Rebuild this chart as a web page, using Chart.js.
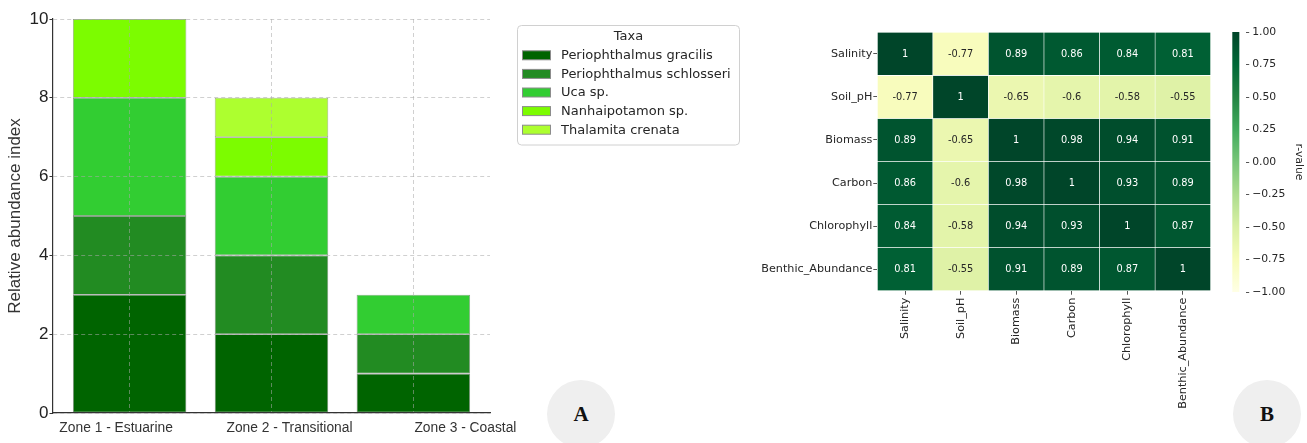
<!DOCTYPE html>
<html><head><meta charset="utf-8">
<script src="https://cdn.jsdelivr.net/npm/chart.js@4.4.0/dist/chart.umd.min.js"></script>
<style>
html,body{margin:0;padding:0;background:#fff;}
body{width:1307px;height:443px;position:relative;overflow:hidden;}
canvas{position:absolute;top:0;}
.badge{position:absolute;width:68px;height:68px;border-radius:50%;background:#efefef;font:bold 21px "Liberation Serif","DejaVu Serif",serif;color:#111;text-align:center;line-height:68px;}
</style></head><body>
<canvas id="cA" width="760" height="443" style="left:0"></canvas>
<canvas id="cB" width="460" height="443" style="left:760px"></canvas>
<canvas id="cC" width="82" height="443" style="left:1225px"></canvas>
<div class="badge" style="left:547px;top:380px">A</div>
<div class="badge" style="left:1233px;top:380px">B</div>
<script>
// ---------- Panel A data ----------
const zones = ['Zone 1 - Estuarine', 'Zone 2 - Transitional', 'Zone 3 - Coastal'];
const taxa = ['Periophthalmus gracilis', 'Periophthalmus schlosseri', 'Uca sp.', 'Nanhaipotamon sp.', 'Thalamita crenata'];
const gracilis = [3, 2, 1];
const schlosseri = [2, 2, 1];
const uca = [3, 2, 1];
const nanhaipotamon = [2, 1, 0];
const thalamita = [0, 1, 0];
const yTicksA = [0, 2, 4, 6, 8, 10];

// ---------- Panel B data ----------
const variables = ['Salinity', 'Soil_pH', 'Biomass', 'Carbon', 'Chlorophyll', 'Benthic_Abundance'];
const rSalinity = [1, -0.77, 0.89, 0.86, 0.84, 0.81];
const rSoilPH = [-0.77, 1, -0.65, -0.6, -0.58, -0.55];
const rBiomass = [0.89, -0.65, 1, 0.98, 0.94, 0.91];
const rCarbon = [0.86, -0.6, 0.98, 1, 0.93, 0.89];
const rChlorophyll = [0.84, -0.58, 0.94, 0.93, 1, 0.87];
const rBenthic = [0.81, -0.55, 0.91, 0.89, 0.87, 1];
const cbTicks = [-1, -0.75, -0.5, -0.25, 0, 0.25, 0.5, 0.75, 1];

// ---------- styles ----------
const taxaColors = ['#006400', '#228B22', '#32CD32', '#7CFC00', '#ADFF2F'];
const zoneLabelShift = [-13.5, 18, 52];   // pixel shift of each x label centre (layout only)
const ylgnStops = ['#ffffe5', '#f7fcb9', '#d9f0a3', '#addd8e', '#78c679', '#41ab5d', '#238443', '#006837', '#004529'];
const sans = 'Liberation Sans';
const dv = 'DejaVu Sans';

function hexRgb(h) { return [1, 3, 5].map(i => parseInt(h.substr(i, 2), 16)); }
function ylgnRgb(v) {
  let t = (v + 1) / 2; t = Math.max(0, Math.min(1, t));
  const p = t * 8, k = Math.min(7, Math.floor(p)), f = p - k;
  const a = hexRgb(ylgnStops[k]), b = hexRgb(ylgnStops[k + 1]);
  return a.map((c, i) => c + (b[i] - c) * f);
}
function ylgn(v) { const c = ylgnRgb(v); return `rgb(${c.map(Math.round).join(',')})`; }
function textColorFor(v) {
  const lin = ylgnRgb(v).map(c => { c /= 255; return c <= 0.03928 ? c / 12.92 : Math.pow((c + 0.055) / 1.055, 2.4); });
  const lum = 0.2126 * lin[0] + 0.7152 * lin[1] + 0.0722 * lin[2];
  return lum > 0.408 ? '#262626' : '#ffffff';
}

// ---------- Panel A ----------
const legendPlugin = {
  id: 'taxaLegend',
  afterDraw(chart) {
    const ctx = chart.ctx; ctx.save();
    // zone labels under the x axis
    const xs = chart.scales.x;
    ctx.font = `13.8px "${sans}"`; ctx.fillStyle = '#333'; ctx.textAlign = 'center'; ctx.textBaseline = 'middle';
    zones.forEach((z, i) => ctx.fillText(z, xs.getPixelForValue(i) + zoneLabelShift[i], chart.chartArea.bottom + 15.5));
    // legend box
    const x0 = 517.5, y0 = 25.5, w = 222, h = 119.5, r = 4;
    ctx.beginPath();
    ctx.moveTo(x0 + r, y0); ctx.lineTo(x0 + w - r, y0); ctx.arcTo(x0 + w, y0, x0 + w, y0 + r, r);
    ctx.lineTo(x0 + w, y0 + h - r); ctx.arcTo(x0 + w, y0 + h, x0 + w - r, y0 + h, r);
    ctx.lineTo(x0 + r, y0 + h); ctx.arcTo(x0, y0 + h, x0, y0 + h - r, r);
    ctx.lineTo(x0, y0 + r); ctx.arcTo(x0, y0, x0 + r, y0, r); ctx.closePath();
    ctx.fillStyle = 'rgba(255,255,255,0.9)'; ctx.fill();
    ctx.strokeStyle = '#d0d0d0'; ctx.lineWidth = 1; ctx.stroke();
    ctx.font = `13px "${dv}"`; ctx.textBaseline = 'middle';
    ctx.fillStyle = '#262626'; ctx.textAlign = 'center';
    ctx.fillText('Taxa', 628.5, 36.5);
    chart.data.datasets.forEach((d, k) => {
      const y = 55.3 + k * 18.6;
      ctx.fillStyle = d.backgroundColor; ctx.fillRect(522.5, y - 4.5, 28, 9);
      ctx.strokeStyle = '#8c8c8c'; ctx.strokeRect(522.5, y - 4.5, 28, 9);
      ctx.fillStyle = '#262626'; ctx.textAlign = 'left';
      ctx.fillText(d.label, 561, y + 0.5);
    });
    ctx.restore();
  }
};

const seriesA = [gracilis, schlosseri, uca, nanhaipotamon, thalamita];
const gridColA = 'rgba(170,170,170,0.55)';
new Chart(document.getElementById('cA'), {
  type: 'bar',
  data: {
    datasets: seriesA.map((s, k) => ({
      label: taxa[k],
      data: s.map((v, i) => ({ x: i, y: v })),
      backgroundColor: taxaColors[k],
      borderColor: '#8c8c8c', borderWidth: 0.8, borderSkipped: false,
      barPercentage: 0.8, categoryPercentage: 1
    }))
  },
  options: {
    responsive: false, animation: false, devicePixelRatio: 1,
    layout: { padding: { top: 19, right: 270, bottom: 0, left: 0 } },
    plugins: { legend: { display: false }, tooltip: { enabled: false } },
    scales: {
      x: {
        type: 'linear', stacked: true, min: -0.54, max: 2.54, offset: false,
        afterBuildTicks: s => { s.ticks = zones.map((z, i) => ({ value: i })); },
        afterFit: s => { s.height = 30; },
        ticks: { display: false },
        grid: { offset: false, color: gridColA, drawTicks: false, z: 1 },
        border: { display: true, color: '#333', width: 1.2, dash: [4, 3], z: 1 }
      },
      y: {
        stacked: true, min: 0, max: 10,
        afterBuildTicks: s => { s.ticks = yTicksA.map(v => ({ value: v })); },
        afterFit: s => { s.width = 53; },
        ticks: { font: { family: sans, size: 17 }, color: '#222', padding: 1 },
        title: { display: true, text: 'Relative abundance index', font: { family: sans, size: 17 }, color: '#333', padding: { top: 5, bottom: 0 } },
        grid: { color: gridColA, tickLength: 3.5, tickColor: '#333', tickBorderDash: [], z: 1 },
        border: { display: true, color: '#333', width: 1.2, dash: [4, 3], z: 1 }
      }
    }
  },
  plugins: [legendPlugin]
});

// ---------- Panel B heatmap ----------
const corrRows = [rSalinity, rSoilPH, rBiomass, rCarbon, rChlorophyll, rBenthic];
const annotPlugin = {
  id: 'cellText',
  afterDatasetsDraw(chart) {
    const ctx = chart.ctx; ctx.save();
    ctx.font = `9.8px "${dv}"`; ctx.textAlign = 'center'; ctx.textBaseline = 'middle';
    chart.data.datasets.forEach((d, i) => {
      chart.getDatasetMeta(i).data.forEach((el, j) => {
        const v = d.rvals[j]; const p = el.getCenterPoint();
        ctx.fillStyle = textColorFor(v);
        ctx.fillText(String(v), p.x, p.y + 0.5);
      });
    });
    ctx.restore();
  }
};
new Chart(document.getElementById('cB'), {
  type: 'bar',
  data: {
    labels: variables,
    datasets: corrRows.map((row, i) => ({
      label: variables[i],
      rvals: row,
      data: row.map(() => [i, i + 1]),
      backgroundColor: row.map(ylgn),
      borderColor: '#ffffff', borderWidth: 0.6, borderSkipped: false,
      barPercentage: 1, categoryPercentage: 1, grouped: false
    }))
  },
  options: {
    responsive: false, animation: false, devicePixelRatio: 1,
    layout: { padding: { top: 32.3, right: 9.3, bottom: 0, left: 0 } },
    plugins: { legend: { display: false }, tooltip: { enabled: false } },
    scales: {
      x: {
        afterFit: s => { s.height = 152.3; },
        ticks: { maxRotation: 90, minRotation: 90, autoSkip: false, font: { family: dv, size: 11.2 }, color: '#262626', padding: 3 },
        grid: { offset: false, drawOnChartArea: false, tickLength: 4, tickColor: '#555' },
        border: { display: false }
      },
      y: {
        min: 0, max: 6, reverse: true,
        afterBuildTicks: s => { s.ticks = variables.map((v, i) => ({ value: i + 0.5 })); },
        afterFit: s => { s.width = 117.3; },
        ticks: { callback: v => variables[Math.floor(v)], font: { family: dv, size: 11.2 }, color: '#262626', padding: 1 },
        grid: { drawOnChartArea: false, tickLength: 4, tickColor: '#555' },
        border: { display: false }
      }
    }
  },
  plugins: [annotPlugin]
});

// ---------- Colorbar ----------
function fmtTick(v) { const s = Math.abs(v).toFixed(2); return v < 0 ? '\u2212' + s : s; }
new Chart(document.getElementById('cC'), {
  type: 'bar',
  data: {
    labels: ['r-value'],
    datasets: [{
      data: [[cbTicks[0], cbTicks[cbTicks.length - 1]]],
      backgroundColor: c => {
        const ca = c.chart.chartArea; if (!ca) return '#78c679';
        const g = c.chart.ctx.createLinearGradient(0, ca.bottom, 0, ca.top);
        ylgnStops.forEach((s, k) => g.addColorStop(k / 8, s));
        return g;
      },
      borderWidth: 0, barPercentage: 1, categoryPercentage: 1
    }]
  },
  options: {
    responsive: false, animation: false, devicePixelRatio: 1,
    layout: { padding: { top: 32, right: 0, bottom: 151, left: 7.3 } },
    plugins: { legend: { display: false }, tooltip: { enabled: false } },
    scales: {
      x: { display: false, offset: false },
      y: {
        position: 'right', min: -1, max: 1,
        afterBuildTicks: s => { s.ticks = cbTicks.map(v => ({ value: v })); },
        afterFit: s => { s.width = 61.3; },
        ticks: { callback: v => fmtTick(v), font: { family: dv, size: 10.8 }, color: '#262626', padding: 3 },
        title: { display: true, text: 'r-value', font: { family: dv, size: 10.8 }, color: '#262626', padding: { top: 2, bottom: 4 } },
        grid: { drawOnChartArea: false, tickLength: 3.5, tickColor: '#555' },
        border: { display: false }
      }
    }
  }
});
</script>
</body></html>
